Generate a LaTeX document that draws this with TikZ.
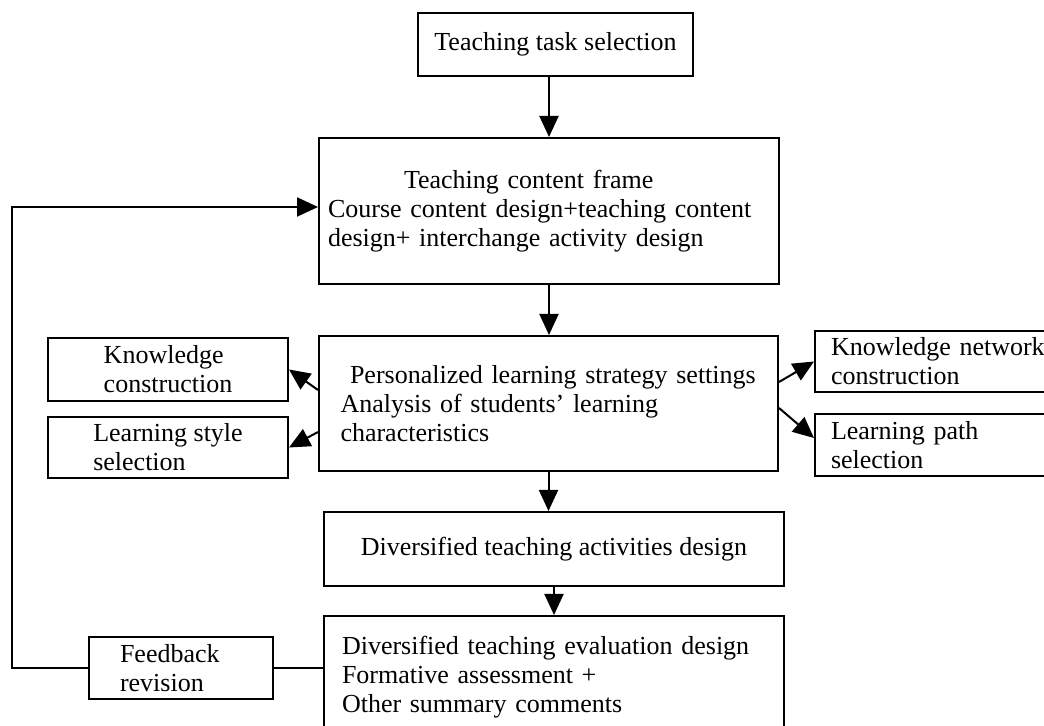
\documentclass[tikz,border=0pt]{standalone}
\usepackage{fontspec}
\setmainfont{Liberation Serif}
\usetikzlibrary{arrows.meta}

\begin{document}
\begin{tikzpicture}[x=0.5pt,y=-0.5pt,line width=1pt,
  box/.style={draw,inner xsep=0pt,inner ysep=2pt,font=\fontsize{13}{14.5}\selectfont},
  arr/.style={-{Triangle[length=10.5pt,width=9.5pt]}}]
\useasboundingbox (0,0) rectangle (1044,726);
\node[box,minimum width=137.5pt,minimum height=31.5pt] (task) at (555.5,44.5) {Teaching task selection};
\node[box,minimum width=230pt,minimum height=73pt,text width=221pt,align=left] (content) at (549,211)
  {\hspace*{38pt}Teaching content frame\\Course content design+teaching content\\design+ interchange activity design};
\node[box,minimum width=229.5pt,minimum height=67.5pt,text width=208pt,align=left] (strategy) at (548.5,403.5)
  {\hspace*{4.75pt}Personalized learning strategy settings\\Analysis of students' learning\\characteristics};
\node[box,minimum width=120pt,minimum height=31.5pt,align=left] (kc) at (168,369.5) {Knowledge\\construction};
\node[box,minimum width=120pt,minimum height=30.5pt,align=left] (ls) at (168,447.5) {Learning style\\selection};
\node[box,minimum width=127.5pt,minimum height=30.5pt,text width=111.5pt,align=left] (knc) at (942.5,361.5) {Knowledge network\\construction};
\node[box,minimum width=127.5pt,minimum height=31pt,text width=111.5pt,align=left] (lps) at (942.5,445) {Learning path\\selection};
\node[box,minimum width=230pt,minimum height=37pt] (activities) at (554,549) {Diversified teaching activities design};
\node[box,minimum width=230pt,minimum height=61pt,text width=212pt,align=left] (evaluation) at (554,677)
  {Diversified teaching evaluation design\\Formative assessment +\\Other summary comments};
\node[box,minimum width=92pt,minimum height=31pt,text width=61pt,align=left] (feedback) at (181,668) {Feedback\\revision};
\coordinate (back) at (12,207);
\draw[arr] (task.south -| content.north) -- (content.north);
\draw[arr] (content.south) -- (content.south |- strategy.north);
\draw[arr] (strategy.west |- 0,390) -- (kc.east);
\draw[arr] (strategy.west |- 0,432) -- (ls.east);
\draw[arr] (strategy.east |- 0,382) -- (knc.west);
\draw[arr] (strategy.east |- 0,408) -- (lps.west |- 0,438);
\draw[arr] (strategy.south) -- (strategy.south |- activities.north);
\draw[arr] (activities.south) -- (activities.south |- evaluation.north);
\draw (evaluation.west |- feedback.east) -- (feedback.east);
\draw[arr] (feedback.west) -| (back) -- (back -| content.west);
\end{tikzpicture}
\end{document}
